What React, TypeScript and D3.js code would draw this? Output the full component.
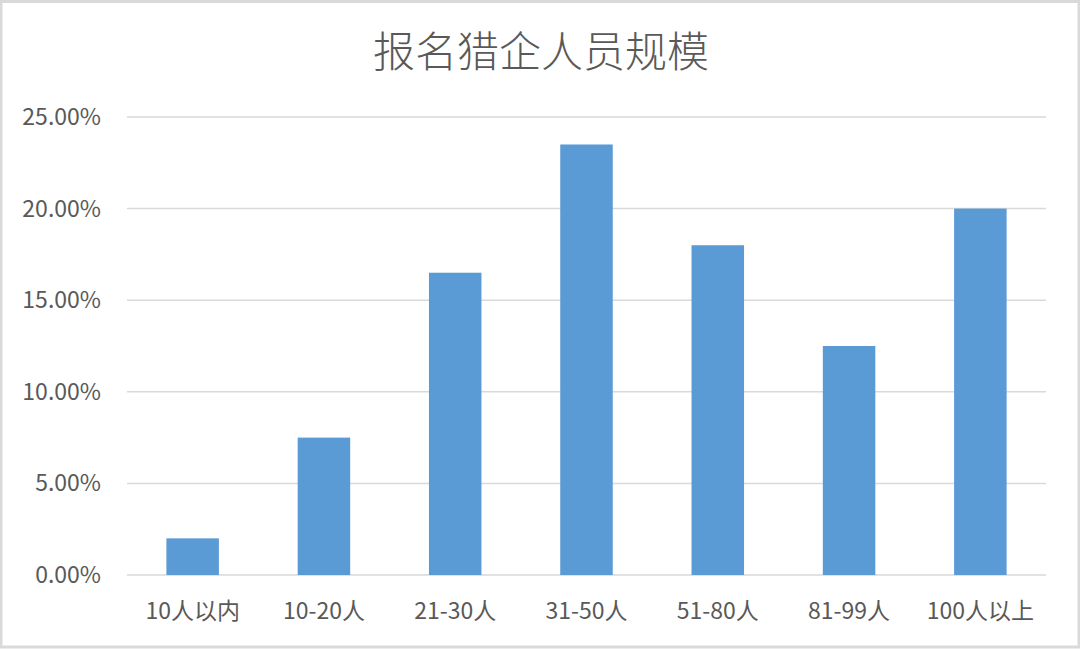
import React from "react";
import * as d3 from "d3";

const categories = ["10人以内", "10-20人", "21-30人", "31-50人", "51-80人", "81-99人", "100人以上"];
const values = [0.02, 0.075, 0.165, 0.235, 0.18, 0.125, 0.2];
const yTicks = [0, 0.05, 0.1, 0.15, 0.2, 0.25];
const title = "报名猎企人员规模";

const W = 1080;
const H = 649;
const left = 127;
const right = 1046;
const top = 117;
const bottom = 575;
const font = "'Noto Sans CJK SC', 'Noto Sans', sans-serif";
const textColor = "#595959";

export default function App() {
  const x = d3.scaleBand<string>().domain(categories).range([left, right]).paddingInner(0.6).paddingOuter(0.3);
  const y = d3.scaleLinear().domain([0, 0.25]).range([bottom, top]);
  const fmt = d3.format(".2%");
  return (
    <svg width={W} height={H} style={{ position: "absolute", left: 0, top: 0, display: "block" }}>
      <rect x={0} y={0} width={W} height={H} fill="#ffffff" />
      <rect x={1} y={1.5} width={W - 2} height={H - 3.5} fill="none" stroke="#d9d9d9" strokeWidth={3} />
      <text x={541} y={67} textAnchor="middle" fontFamily={font} fontSize={42} fontWeight={300} fill={textColor}>
        {title}
      </text>
      {yTicks.map((t) => (
        <g key={t}>
          <line x1={left} x2={right} y1={y(t)} y2={y(t)} stroke="#d9d9d9" strokeWidth={1.5} />
          <text x={101} y={y(t)} dy="0.35em" textAnchor="end" fontFamily={font} fontSize={23} fill={textColor}>
            {fmt(t)}
          </text>
        </g>
      ))}
      {categories.map((c, i) => (
        <rect key={c} x={x(c)} y={y(values[i])} width={x.bandwidth()} height={bottom - y(values[i])} fill="#5b9bd5" />
      ))}
      {categories.map((c) => (
        <text key={c} x={(x(c) as number) + x.bandwidth() / 2} y={619} textAnchor="middle" fontFamily={font} fontSize={23} fill={textColor}>
          {c}
        </text>
      ))}
    </svg>
  );
}
